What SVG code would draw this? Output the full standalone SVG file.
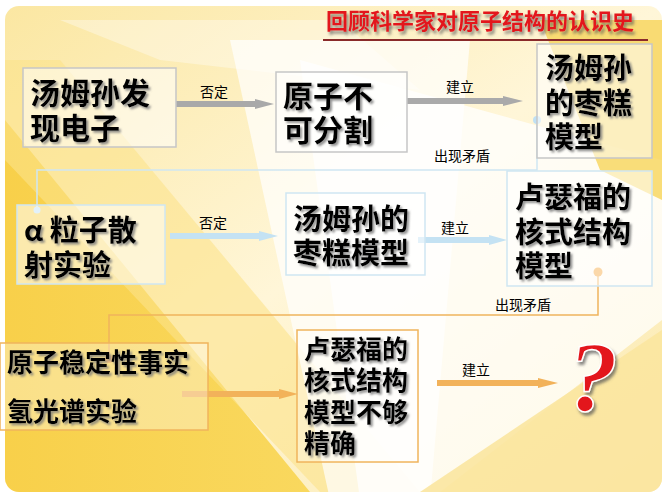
<svg xmlns="http://www.w3.org/2000/svg" width="667" height="500" viewBox="0 0 667 500">
<defs>
<linearGradient id="bg" x1="0" y1="0" x2="1" y2="1">
<stop offset="0" stop-color="#fbe7a2"/>
<stop offset="0.5" stop-color="#fff6d8"/>
<stop offset="1" stop-color="#fbe9ad"/>
</linearGradient>
<linearGradient id="yl" x1="0" y1="0" x2="1" y2="0">
<stop offset="0" stop-color="#f8d04a"/>
<stop offset="1" stop-color="#f9d85e"/>
</linearGradient>
<filter id="sh" x="-10%" y="-10%" width="130%" height="140%">
<feDropShadow dx="2" dy="2" stdDeviation="0.8" flood-color="#777" flood-opacity="0.8"/>
</filter>
<filter id="shr" x="-10%" y="-10%" width="130%" height="140%">
<feDropShadow dx="2" dy="3" stdDeviation="1.5" flood-color="#555" flood-opacity="0.7"/>
</filter>
<clipPath id="panel"><rect x="5" y="6" width="657" height="486" rx="14"/></clipPath>
</defs>
<style>
.t{font-family:"Noto Sans CJK SC","Liberation Sans",sans-serif;font-weight:bold;fill:#000;filter:url(#sh)}
.l{font-family:"Noto Sans CJK SC","Liberation Sans",sans-serif;font-size:14px;fill:#000}
.gb{fill:#ffffff;fill-opacity:0.55;stroke:#c6c6c6;stroke-width:1.5}
.bb{fill:#ffffff;fill-opacity:0.55;stroke:#cfe6f2;stroke-width:1.5}
.ob{fill:#ffffff;fill-opacity:0.35;stroke:#f0b45c;stroke-width:1.5}
</style>
<rect width="667" height="500" fill="#fff"/>
<g clip-path="url(#panel)">
<rect x="5" y="6" width="657" height="486" fill="url(#bg)"/>
<polygon points="5,120 5,492 310,492" fill="url(#yl)"/>
<polygon points="5,60 5,160 320,492 420,492 60,60" fill="#fbe28a" opacity="0.6"/>
<polygon points="230,40 470,40 430,500 330,500" fill="#fff" opacity="0.7"/>
<polygon points="300,60 662,160 662,320 430,500 360,500" fill="#fff" opacity="0.75"/>
<polygon points="540,20 662,20 662,200 600,170" fill="#f8d45a" opacity="0.8"/>
<polygon points="420,492 662,330 662,492" fill="#fbe6a0" opacity="0.9"/>
<polygon points="60,20 340,20 420,90 160,60" fill="#fff" opacity="0.35"/>
</g>
<g id="title">
<text x="480" y="29" text-anchor="middle" font-family="Noto Sans CJK SC, sans-serif" font-weight="bold" font-size="22" fill="#e3141b" filter="url(#shr)">回顾科学家对原子结构的认识史</text>
<line x1="323" y1="40" x2="648" y2="40" stroke="#8a2a2a" stroke-width="2"/>
</g>
<g id="connectors">
<path d="M176,101 H255 V99 L274,104 L255,109 V107 H176 Z" fill="#a9a9a9"/>
<path d="M407,98 H503 V96 L523,101 L503,106 V104 H407 Z" fill="#aaaaaa"/>
<path d="M170,233 H259 V231 L278,236 L259,241 V239 H170 Z" fill="#c4e2f3"/>
<path d="M418,237 H489 V235 L507,240 L489,245 V243 H418 Z" fill="#c4e2f3"/>
<path d="M182,391 H279 V389 L298,394 L279,399 V397 H182 Z" fill="#f2b25a"/>
<path d="M437,380 H538 V378 L558,383 L538,388 V386 H437 Z" fill="#f2b25a"/>
<polyline points="537,120 537,170 37,170 37,210" fill="none" stroke="#cfe6f2" stroke-width="1.5"/>
<circle cx="537" cy="120" r="4" fill="#bfe0f4"/>
<circle cx="37" cy="210" r="3.5" fill="#bfe0f4"/>
<polyline points="598,272 598,315 109,315 109,359" fill="none" stroke="#f0b45c" stroke-width="1.5"/>
<circle cx="598" cy="272" r="4.5" fill="#f5a842"/>
<circle cx="109" cy="359" r="4" fill="#f5a842"/>
<text class="l" x="200" y="97">否定</text>
<text class="l" x="446" y="92">建立</text>
<text class="l" x="434" y="161">出现矛盾</text>
<text class="l" x="199" y="228">否定</text>
<text class="l" x="441" y="233">建立</text>
<text class="l" x="495" y="310">出现矛盾</text>
<text class="l" x="462" y="375">建立</text>
</g>
<g id="n1"><rect class="gb" x="23" y="68" width="153" height="79"/>
<text class="t" font-size="30"><tspan x="30" y="104">汤姆孙发</tspan><tspan x="30" y="139">现电子</tspan></text></g>
<g id="n2"><rect class="gb" x="276" y="72" width="131" height="80"/>
<text class="t" font-size="30"><tspan x="283" y="107">原子不</tspan><tspan x="283" y="141">可分割</tspan></text></g>
<g id="n3"><rect class="gb" x="537" y="44" width="115" height="114"/>
<text class="t" font-size="29"><tspan x="545" y="79">汤姆孙</tspan><tspan x="545" y="114">的枣糕</tspan><tspan x="545" y="148">模型</tspan></text></g>
<g id="n4"><rect class="bb" x="17" y="205" width="148" height="79"/>
<text class="t" font-size="29"><tspan x="24" y="241">α 粒子散</tspan><tspan x="24" y="276">射实验</tspan></text></g>
<g id="n5"><rect class="bb" x="286" y="193" width="139" height="82"/>
<text class="t" font-size="29"><tspan x="293" y="230">汤姆孙的</tspan><tspan x="293" y="264">枣糕模型</tspan></text></g>
<g id="n6"><rect class="bb" x="507" y="171" width="145" height="115"/>
<text class="t" font-size="29"><tspan x="515" y="208">卢瑟福的</tspan><tspan x="515" y="243">核式结构</tspan><tspan x="515" y="277">模型</tspan></text></g>
<g id="n7"><rect class="ob" x="0" y="343" width="208" height="87"/>
<text class="t" font-size="26"><tspan x="7" y="372">原子稳定性事实</tspan><tspan x="7" y="421">氢光谱实验</tspan></text></g>
<g id="n8"><rect class="ob" x="297" y="330" width="121" height="132"/>
<text class="t" font-size="26"><tspan x="304" y="359">卢瑟福的</tspan><tspan x="304" y="390">核式结构</tspan><tspan x="304" y="422">模型不够</tspan><tspan x="304" y="453">精确</tspan></text></g>
<g id="n9"><text x="568" y="410" font-family="Liberation Serif, serif" font-weight="bold" font-style="italic" font-size="100" fill="#e3141b" stroke="#fff" stroke-width="1.5" filter="url(#shr)">?</text></g>
</svg>
